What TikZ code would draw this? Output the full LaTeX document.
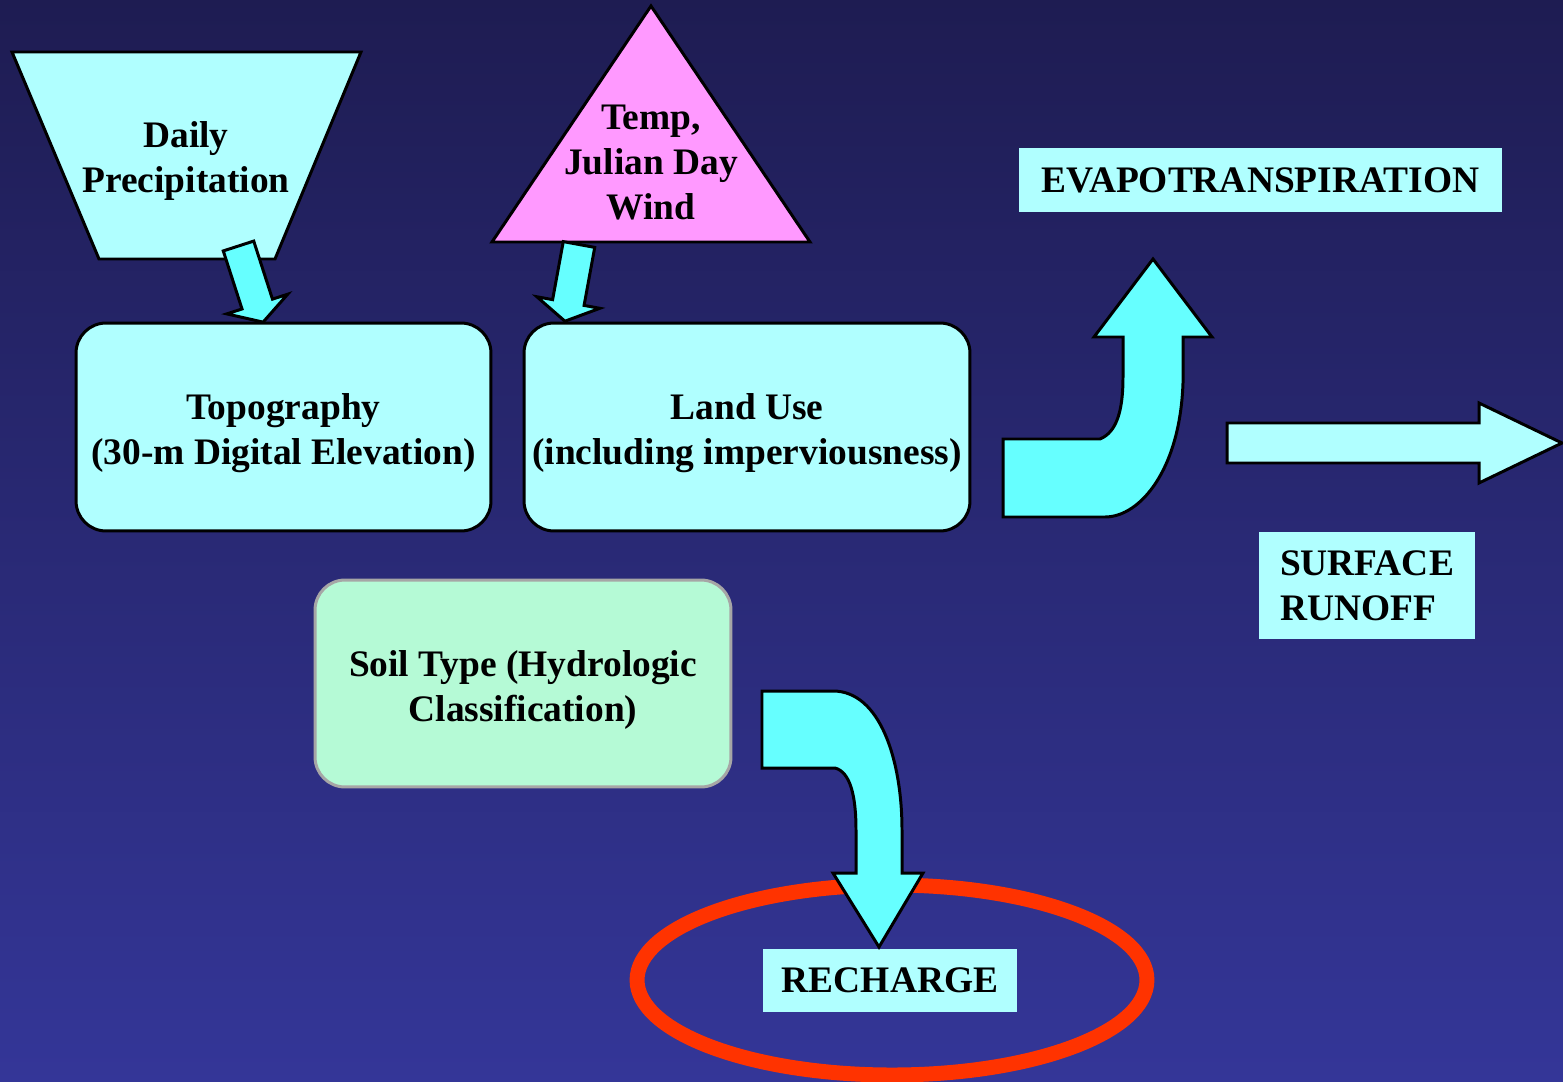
\documentclass[tikz,border=0pt]{standalone}
\usepackage{fontspec}
\setmainfont{Liberation Serif}
\usetikzlibrary{arrows,positioning,shapes,calc}

\definecolor{bgtop}{RGB}{30,28,82}
\definecolor{bgbot}{RGB}{52,54,152}
\definecolor{paleaqua}{HTML}{B0FFFF}
\definecolor{aqua}{HTML}{66FFFF}
\definecolor{pinkish}{HTML}{FF99FF}
\definecolor{mint}{HTML}{B5FAD6}
\definecolor{recred}{HTML}{FF3300}

% small tilted block arrow: tail x, tail y, angle, length
\newcommand{\tiltarrow}[4]{\draw[barrow, shift={(#1,#2)}, rotate=#3] (0,-16) -- (#4-19,-16) -- (#4-19,-32) -- (#4,0) -- (#4-19,32) -- (#4-19,16) -- (0,16) -- cycle;}
% taller first line, pushes box text down a bit
\newcommand{\lift}{\rule{0pt}{22pt}}

\begin{document}
\begin{tikzpicture}[x=0.02cm, y=-0.02cm,
  every node/.style={font=\fontsize{21.3}{25.6}\selectfont\bfseries, align=center},
  inbox/.style={draw=black, line width=1.7pt, fill=paleaqua, rounded corners=0.6cm, minimum height=4.16cm},
  soilbox/.style={inbox, draw=gray!70, fill=mint},
  outbox/.style={fill=paleaqua, inner sep=0pt},
  barrow/.style={draw=black, line width=1.7pt, fill=aqua, line join=miter},
  pale/.style={barrow, fill=paleaqua}]
\shade[top color=bgtop, bottom color=bgbot] (0,0) rectangle (1563,1082);
\useasboundingbox (0,0) rectangle (1563,1082);

% inputs
\draw[pale] (12,52) -- (361,52) -- (275,259) -- (99,259) -- cycle;
\node (precip) at (186,161) {Daily\\Precipitation};
\draw[barrow, fill=pinkish] (651,6) -- (810,242) -- (492,242) -- cycle;
\node (temp) at (651,163) {Temp,\\Julian Day\\Wind};

\node[inbox, minimum width=8.3cm] (topo) at (283.5,427) {\lift Topography\\(30-m Digital Elevation)};
\node[inbox, minimum width=8.92cm] (landuse) at (747,427) {\lift Land Use\\(including imperviousness)};
\node[soilbox, minimum width=8.32cm, minimum height=4.14cm] (soil) at (523,683.5) {\lift Soil Type (Hydrologic\\Classification)};
\tiltarrow{238.5}{246}{-72.1}{80}
\tiltarrow{579}{244.5}{-100.4}{78}

% outputs
\node[outbox, minimum width=9.66cm, minimum height=1.28cm] (evap) at (1260.5,180) {EVAPOTRANSPIRATION};
\node[outbox, minimum width=4.32cm, minimum height=2.14cm, align=left] (runoff) at (1367,585.5) {SURFACE\\RUNOFF};
\node[ellipse, draw=recred, line width=8.5pt, minimum width=10.2cm, minimum height=3.8cm] (ring) at (892,980) {};
\node[outbox, minimum width=5.08cm, minimum height=1.26cm] (recharge) at (890,980.5) {RECHARGE};

\draw[barrow] (1003,439) -- (1100,439) .. controls (1117,432) and (1123,410) .. (1123,377) -- (1123,337) -- (1094,337) -- (1153,259) -- (1212,337) -- (1183,337) -- (1183,383) .. controls (1180,470) and (1140,517) .. (1105,517) -- (1003,517) -- cycle;
\draw[pale] (1227,423) -- (1479,423) -- (1479,403) -- (1562,443) -- (1479,483) -- (1479,463) -- (1227,463) -- cycle;
\draw[barrow] (762,691) -- (833,691) .. controls (880,691) and (902,760) .. (902,830) -- (902,873) -- (923,873) -- (879,947) -- (833,873) -- (856,873) -- (856,830) .. controls (856,795) and (850,772) .. (835,768) -- (762,768) -- cycle;
\end{tikzpicture}
\end{document}
